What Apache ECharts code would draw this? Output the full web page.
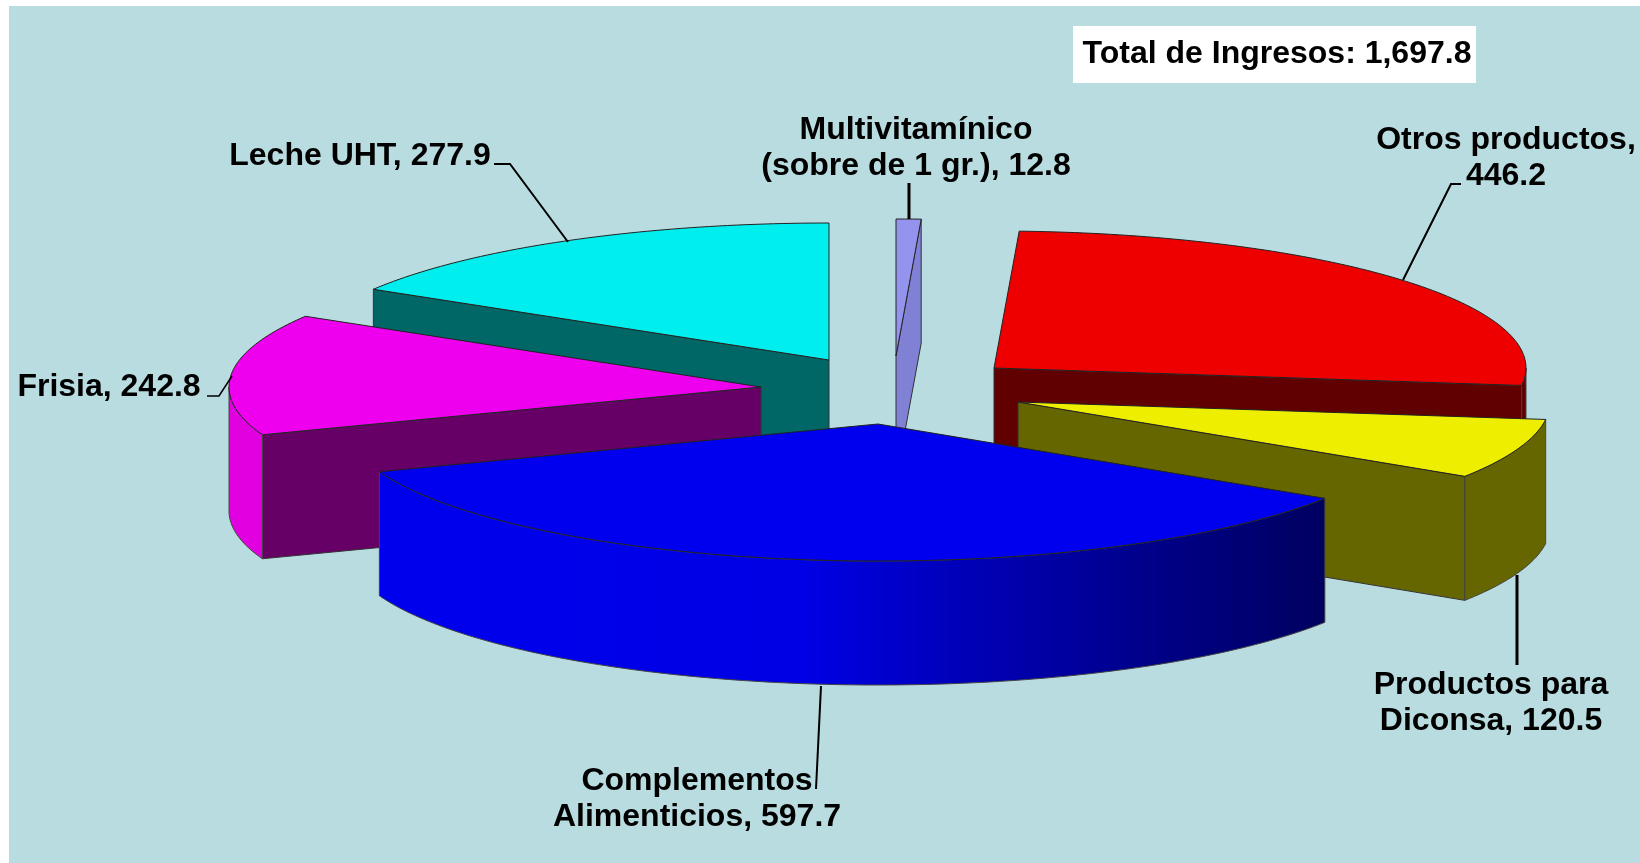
<!DOCTYPE html>
<html>
<head>
<meta charset="utf-8">
<style>html,body{margin:0;padding:0;background:#fff}#c{width:1640px;height:863px}</style>
<script src="https://cdn.jsdelivr.net/npm/echarts@6/dist/echarts.min.js"></script>
</head>
<body>
<div id="c"></div>
<script>
// ---- data (clockwise from 12 o'clock) ----
const categories = ['Multivitamínico\n(sobre de 1 gr.)', 'Otros productos,\n', 'Productos para\nDiconsa', 'Complementos\nAlimenticios', 'Frisia', 'Leche UHT'];
const values = [12.8, 446.2, 120.5, 597.7, 242.8, 277.9];
const totalLabel = 'Total de Ingresos: 1,697.8';

// ---- styling and layout ----
const RX = 532, RY = 137, DEPTH = 124;
const FONT = 'bold 32px "Liberation Sans", Arial, sans-serif';
const BG = '#B9DCE0';
const apex = [[896, 356], [994, 368], [1018, 402], [878, 424], [761, 387], [829, 360]];
const topColor = ['#9494EE', '#EE0000', '#EEEE00', '#0000EE', '#EE00EE', '#00EEEE'];
const wallColor = ['#8080D4', '#600000', '#666600', '#000060', '#660066', '#006666'];
const blueRamp = {type: 'linear', x: 0, y: 0, x2: 1, y2: 0, colorStops: [
  {offset: 0, color: '#0000EE'}, {offset: 0.45, color: '#0000E4'}, {offset: 0.62, color: '#0000B8'},
  {offset: 0.82, color: '#000088'}, {offset: 1, color: '#000060'}]};
const outerColor = [wallColor[0], '#600000', '#666600', blueRamp, '#E000E0', '#006666'];
const paintOrder = [5, 0, 1, 4, 2, 3];
const labelCenter = [[916, 148], [1506, 158], [1491, 703], [697, 799], [109, 387], [360, 156]];
const leaders = [
  [[909, 183], [909, 219]],
  [[1461, 184], [1451, 184], [1403, 280]],
  [[1517, 575], [1517, 665]],
  [[821, 686], [816, 789]],
  [[207, 396], [219, 396], [232, 376]],
  [[494, 164], [510, 164], [568, 242]]
];
const leaderWidth = [3, 2, 3, 2, 1.5, 2];

const total = values.reduce((a, b) => a + b, 0);
const startDeg = [];
values.reduce((acc, v, i) => { startDeg[i] = acc; return acc + v / total * 360; }, 0);

function pt(i, deg, dz) {
  const t = deg * Math.PI / 180;
  return [apex[i][0] + RX * Math.sin(t), apex[i][1] - RY * Math.cos(t) + (dz || 0)];
}
function arc(i, a, b, dz) {
  const n = Math.max(2, Math.ceil(b - a)), out = [];
  for (let k = 0; k <= n; k++) out.push(pt(i, a + (b - a) * k / n, dz));
  return out;
}
function labelText(i) {
  const txt = values[i].toFixed(1);
  const name = categories[i];
  return name.endsWith('\n') ? name + txt : name + ', ' + txt;
}
function renderItem(params, api) {
  const i = api.value(1), v = api.value(0);
  const a = startDeg[i], b = a + v / total * 360;
  const kids = [];
  const poly = (points, fill, stroke) => kids.push({type: 'polygon', shape: {points},
    style: {fill, stroke: stroke || '#333', lineWidth: 1}});
  const sinA = Math.sin(a * Math.PI / 180), sinB = Math.sin(b * Math.PI / 180);
  const c = apex[i], cb = [c[0], c[1] + DEPTH];
  if (sinA < -1e-6) poly([c, pt(i, a), pt(i, a, DEPTH), cb], wallColor[i]);
  if (sinB > 1e-6) poly([c, pt(i, b), pt(i, b, DEPTH), cb], wallColor[i]);
  const oa = Math.max(a, 90), ob = Math.min(b, 270);
  if (ob > oa) poly(arc(i, oa, ob).concat(arc(i, oa, ob, DEPTH).reverse()), outerColor[i], '#444');
  poly([c].concat(arc(i, a, b)), topColor[i], '#222');
  kids.push({type: 'polyline', shape: {points: leaders[i]}, style: {fill: null, stroke: '#000', lineWidth: leaderWidth[i]}});
  kids.push({type: 'text', style: {text: labelText(i), x: labelCenter[i][0], y: labelCenter[i][1], font: FONT,
    fill: '#000', align: 'center', verticalAlign: 'middle', lineHeight: 36}});
  return {type: 'group', children: kids};
}

const chart = echarts.init(document.getElementById('c'), null, {renderer: 'canvas'});
chart.setOption({
  animation: false,
  backgroundColor: '#fff',
  graphic: [
    {type: 'rect', z: 0, silent: true, shape: {x: 9, y: 6, width: 1631, height: 857}, style: {fill: BG}},
    {type: 'rect', z: 10, silent: true, shape: {x: 1073, y: 26, width: 403, height: 57}, style: {fill: '#fff'}},
    {type: 'text', z: 11, silent: true, style: {text: totalLabel, x: 1277, y: 54, font: FONT, fill: '#000', align: 'center', verticalAlign: 'middle'}}
  ],
  series: [{
    type: 'custom',
    coordinateSystem: 'none',
    silent: true,
    renderItem,
    data: paintOrder.map(i => ({name: categories[i], value: [values[i], i]}))
  }]
});
</script>
</body>
</html>
